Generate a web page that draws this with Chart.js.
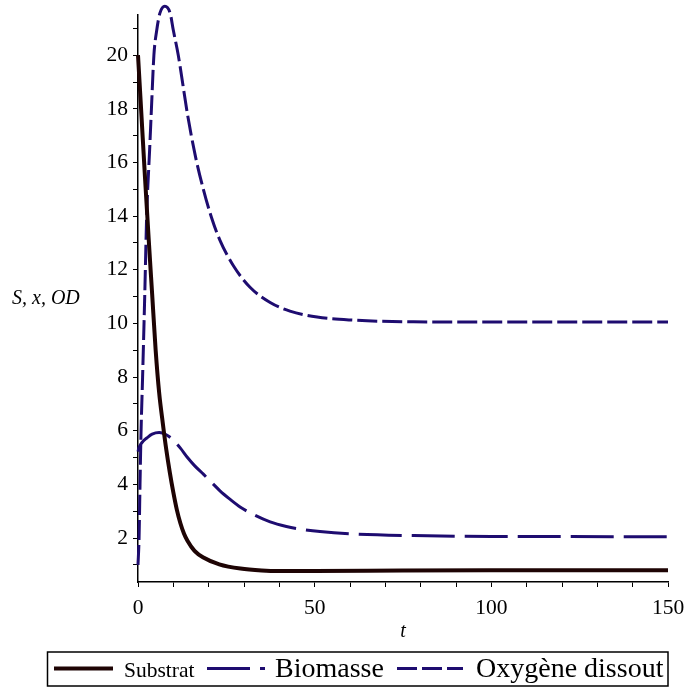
<!DOCTYPE html>
<html>
<head>
<meta charset="utf-8">
<script src="https://cdn.jsdelivr.net/npm/chart.js@4"></script>
<style>
  html, body { margin: 0; padding: 0; background: #fff; }
  #wrap { width: 687px; height: 688px; }
</style>
</head>
<body>
<div id="wrap"><canvas id="chart"></canvas></div>
<script>
// Data
const tSubstrat = [0, 1, 2, 3, 4, 5, 6, 7, 8, 9, 10, 11, 12, 13, 14, 16, 18.5, 23, 29, 35, 40, 50, 75, 100, 150];
const substrat  = [20, 17.7, 15.4, 13.2, 11.1, 9.0, 7.4, 6.3, 5.3, 4.45, 3.7, 3.05, 2.55, 2.17, 1.9, 1.52, 1.27, 1.02, 0.86, 0.79, 0.77, 0.77, 0.79, 0.8, 0.8];

const tBiomasse = [0, 0.3, 0.8, 1.5, 2.5, 4, 6, 8, 10, 12, 14, 16, 18.5, 21, 23.2, 26, 29, 32.6, 37.4, 42, 46, 51.5, 61, 78, 100, 150];
const biomasse  = [5.22, 5.38, 5.5, 5.62, 5.73, 5.87, 5.93, 5.85, 5.65, 5.35, 5.0, 4.7, 4.38, 4.05, 3.76, 3.45, 3.15, 2.88, 2.6, 2.43, 2.33, 2.24, 2.15, 2.09, 2.06, 2.05];

const tOxygene = [0, 0.3, 0.57, 0.85, 1.3, 1.9, 2.45, 3.3, 3.8, 4.5, 5.3, 6.2, 7.6, 9.1, 10, 11.4, 14, 16.3, 18.5, 20.8, 23.2, 27, 31.7, 37.4, 43, 50.7, 60, 78, 100, 150];
const oxygene  = [1.0, 2.0, 4.0, 5.9, 8.0, 11.0, 14.0, 16.5, 18.0, 20.0, 20.93, 21.57, 21.83, 21.57, 20.93, 20.0, 17.8, 16.2, 15.0, 13.95, 13.1, 12.15, 11.35, 10.78, 10.46, 10.24, 10.13, 10.06, 10.05, 10.05];

const seriesNames = ['Substrat', 'Biomasse', 'Oxygène dissout'];

const xTicks = [0, 10, 20, 30, 40, 50, 60, 70, 80, 90, 100, 110, 120, 130, 140, 150];
const xTickLabels = [0, 50, 100, 150];
const yTicks = [1, 2, 3, 4, 5, 6, 7, 8, 9, 10, 11, 12, 13, 14, 15, 16, 17, 18, 19, 20, 21];
const yTickLabels = [2, 4, 6, 8, 10, 12, 14, 16, 18, 20];

const xTitle = 't';
const yTitle = 'S, x, OD';

const toPoints = (ts, vs) => ts.map((t, i) => ({ x: t, y: vs[i] }));

// titles and boxed legend, drawn on the canvas
const extras = {
  id: 'extras',
  afterDraw(chart) {
    const ctx = chart.ctx;
    const area = chart.chartArea;
    ctx.save();
    ctx.fillStyle = '#000';
    ctx.font = 'italic 20px "Liberation Serif"';
    ctx.textBaseline = 'middle';
    ctx.textAlign = 'left';
    ctx.fillText(yTitle, 12, (area.top + area.bottom) / 2);
    ctx.textAlign = 'center';
    ctx.fillText(xTitle, (area.left + area.right) / 2, 632);

    // legend box
    ctx.strokeStyle = '#000';
    ctx.lineWidth = 1.5;
    ctx.strokeRect(47.5, 652, 620.5, 34);

    const items = [
      { x0: 54, x1: 113, tx: 124, size: 21.5 },
      { x0: 207, x1: 265, tx: 275, size: 28 },
      { x0: 397, x1: 463, tx: 476, size: 28 }
    ];
    chart.data.datasets.forEach((ds, i) => {
      const it = items[i];
      ctx.strokeStyle = ds.borderColor;
      ctx.lineWidth = ds.borderWidth;
      ctx.setLineDash(ds.borderDash || []);
      ctx.beginPath();
      ctx.moveTo(it.x0, 668.5);
      ctx.lineTo(it.x1, 668.5);
      ctx.stroke();
      ctx.setLineDash([]);
      ctx.fillStyle = '#000';
      ctx.font = it.size + 'px "Liberation Serif"';
      ctx.textAlign = 'left';
      ctx.textBaseline = 'alphabetic';
      ctx.fillText(ds.label, it.tx, 676.5);
    });
    ctx.restore();
  }
};

const data = {
  datasets: [{
    label: seriesNames[0],
    data: toPoints(tSubstrat, substrat),
    borderColor: '#1e0404',
    borderWidth: 4,
    borderDash: [],
    pointRadius: 0,
    cubicInterpolationMode: 'monotone',
    clip: false
  }, {
    label: seriesNames[1],
    data: toPoints(tBiomasse, biomasse),
    borderColor: '#1e0c70',
    borderWidth: 3,
    borderDash: [43, 10],
    pointRadius: 0,
    cubicInterpolationMode: 'monotone',
    clip: false
  }, {
    label: seriesNames[2],
    data: toPoints(tOxygene, oxygene),
    borderColor: '#1e0c70',
    borderWidth: 3,
    borderDash: [20, 5],
    pointRadius: 0,
    cubicInterpolationMode: 'monotone',
    clip: false
  }]
};

const tickFont = { family: 'Liberation Serif', size: 21.5 };

const config = {
  type: 'line',
  data: data,
  options: {
    responsive: true,
    maintainAspectRatio: false,
    animation: false,
    devicePixelRatio: 1,
    layout: { padding: { left: 0, right: 19, top: 15, bottom: 43 } },
    plugins: {
      legend: { display: false },
      tooltip: { enabled: false }
    },
    scales: {
      x: {
        type: 'linear',
        min: 0,
        max: 150,
        afterBuildTicks: (scale) => { scale.ticks = xTicks.map(v => ({ value: v })); },
        afterFit: (scale) => {
          scale.height = 63;
          scale.paddingLeft = 0;
          scale.paddingRight = 0;
        },
        ticks: {
          font: tickFont,
          color: '#000',
          padding: 8,
          maxRotation: 0,
          autoSkip: false,
          callback: (v) => xTickLabels.includes(v) ? String(v) : ''
        },
        grid: { drawOnChartArea: false, drawTicks: true, tickLength: 5, tickColor: '#000', tickWidth: 1 },
        border: { display: true, color: '#000', width: 1.5 }
      },
      y: {
        type: 'linear',
        min: 0.36,
        max: 21.5,
        afterBuildTicks: (scale) => { scale.ticks = yTicks.map(v => ({ value: v })); },
        afterFit: (scale) => {
          scale.width = 138;
          scale.paddingTop = 0;
          scale.paddingBottom = 0;
        },
        ticks: {
          font: tickFont,
          color: '#000',
          padding: 5,
          autoSkip: false,
          callback: (v) => yTickLabels.includes(v) ? String(v) : ''
        },
        grid: { drawOnChartArea: false, drawTicks: true, tickLength: 5, tickColor: '#000', tickWidth: 1 },
        border: { display: true, color: '#000', width: 1.5 }
      }
    }
  },
  plugins: [extras]
};

const myChart = new Chart(document.getElementById('chart'), config);
</script>
</body>
</html>
